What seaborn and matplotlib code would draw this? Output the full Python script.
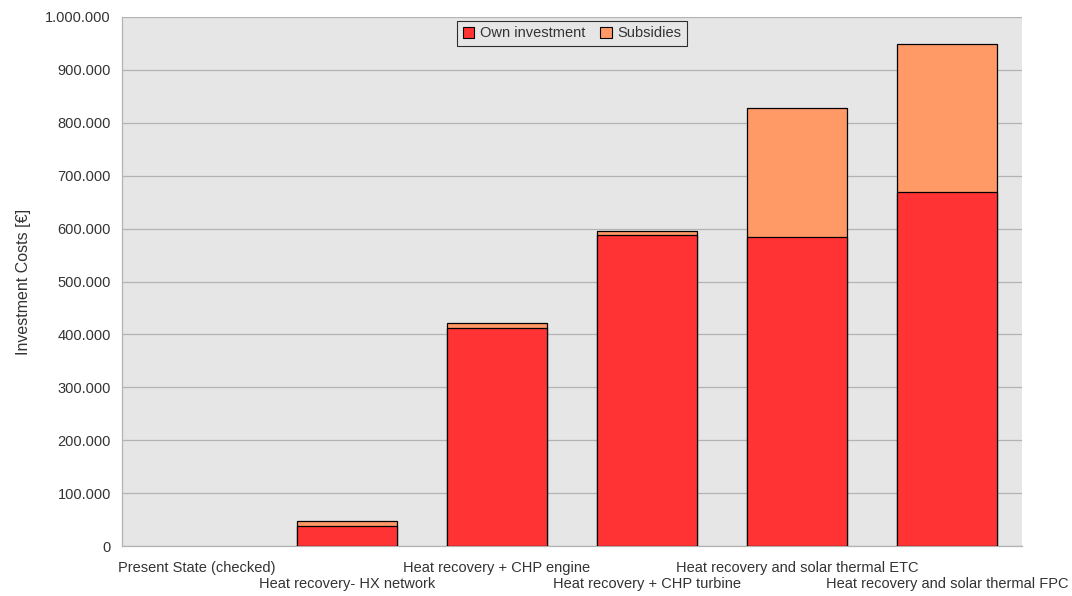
import matplotlib
matplotlib.use("Agg")
import matplotlib.pyplot as plt
import matplotlib.ticker as mticker
import matplotlib.transforms as mtransforms
from matplotlib.patches import Patch
import seaborn as sns
import pandas as pd

categories = [
    "Present State (checked)",
    "Heat recovery- HX network",
    "Heat recovery + CHP engine",
    "Heat recovery + CHP turbine",
    "Heat recovery and solar thermal ETC",
    "Heat recovery and solar thermal FPC",
]
own_investment = [0, 37000, 412000, 588000, 584000, 669000]
subsidies = [0, 10000, 10000, 8000, 244000, 280000]
series_names = ["Own investment", "Subsidies"]

sns.set_theme(style="white")
plt.rcParams["font.family"] = ["Liberation Sans", "DejaVu Sans"]

df = pd.DataFrame({
    "category": categories,
    "own": own_investment,
    "total": [o + s for o, s in zip(own_investment, subsidies)],
})

fig = plt.figure(figsize=(10.72, 5.96), dpi=100)
ax = fig.add_axes([122 / 1072, 50 / 596, 900 / 1072, 529 / 596])
ax.set_facecolor("#e6e6e6")

c_own = "#ff3333"
c_sub = "#ff9966"

sns.barplot(data=df, x="category", y="total", color=c_sub, saturation=1,
            width=2 / 3, edgecolor="black", linewidth=0.9, ax=ax, zorder=3)
sns.barplot(data=df, x="category", y="own", color=c_own, saturation=1,
            width=2 / 3, edgecolor="black", linewidth=0.9, ax=ax, zorder=4)
for p in ax.patches:
    if p.get_height() == 0:
        p.set_linewidth(0)

ax.set_xlim(-0.5, len(categories) - 0.5)
ax.set_ylim(0, 1000000)
ax.yaxis.set_major_locator(mticker.MultipleLocator(100000))
ax.yaxis.set_major_formatter(mticker.FuncFormatter(
    lambda v, p: f"{int(v):,}".replace(",", ".")))
ax.grid(axis="y", color="#b3b3b3", linewidth=0.9, zorder=0)
ax.set_axisbelow(True)

# x ticks: majors at slot boundaries; category labels staggered in two rows
ax.set_xticks([i - 0.5 for i in range(len(categories) + 1)])
ax.set_xticklabels([])
ax.set_xlabel("")
trans = mtransforms.blended_transform_factory(ax.transData, ax.transAxes)
for i, c in enumerate(categories):
    dy = -22 if i % 2 == 0 else -38
    ax.annotate(c, xy=(i, 0), xycoords=trans, xytext=(0, dy), textcoords="offset points"
                if False else "offset pixels", ha="center", va="center",
                fontsize=10.5, color="#333333")
ax.tick_params(axis="x", which="major", length=5, color="#b3b3b3", width=0.9, direction="out")
ax.tick_params(axis="y", length=5, color="#b3b3b3", width=0.9, direction="out",
               labelsize=10.5, labelcolor="#333333", pad=3)
ax.set_ylabel("Investment Costs [€]", fontsize=11.5, color="#333333", labelpad=10)

for s in ["top", "right"]:
    ax.spines[s].set_visible(False)
for s in ["left", "bottom"]:
    ax.spines[s].set_color("#b3b3b3")
    ax.spines[s].set_linewidth(0.9)

handles = [Patch(facecolor=c_own, edgecolor="black", linewidth=0.8),
           Patch(facecolor=c_sub, edgecolor="black", linewidth=0.8)]
leg = ax.legend(handles, series_names, loc="upper center", bbox_to_anchor=(0.5, 1.0),
                ncol=2, frameon=True, fancybox=False, fontsize=10.5,
                handlelength=0.8, handleheight=0.8, handletextpad=0.4,
                columnspacing=1.0, borderpad=0.4, borderaxespad=0.25)
leg.get_frame().set_edgecolor("black")
leg.get_frame().set_facecolor("#e6e6e6")
leg.get_frame().set_linewidth(0.8)
for t in leg.get_texts():
    t.set_color("#333333")

fig.savefig("out.png", dpi=100)
